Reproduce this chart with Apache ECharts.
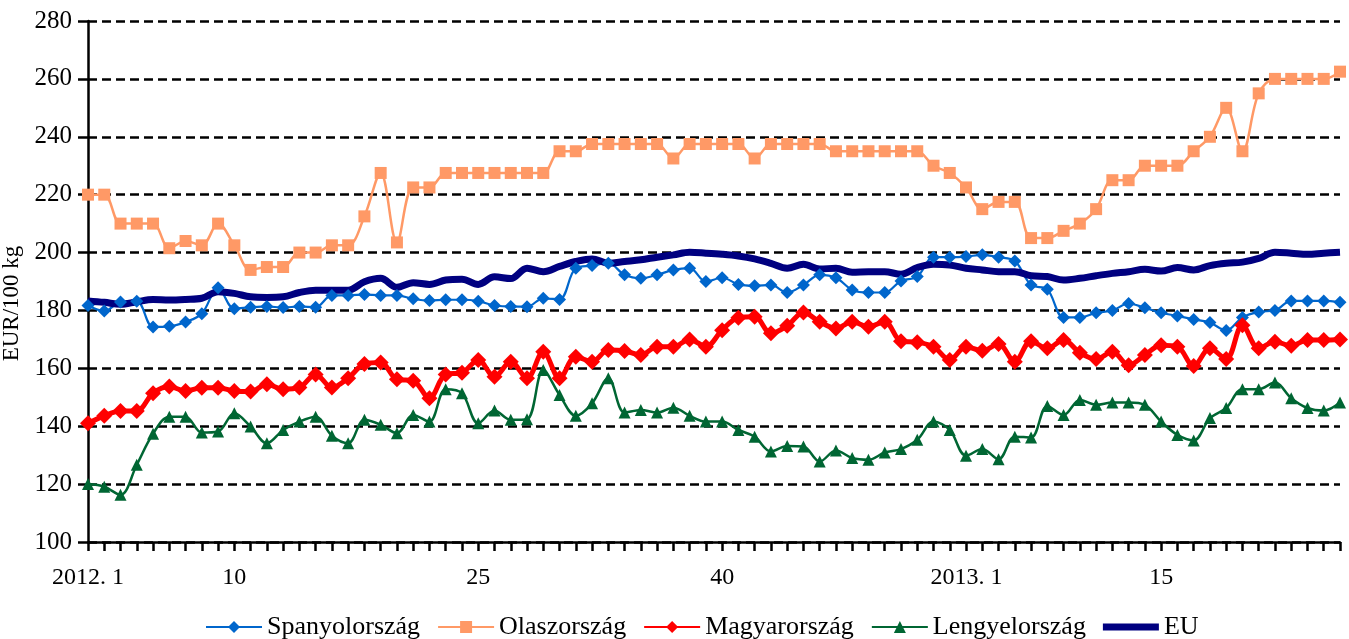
<!DOCTYPE html>
<html>
<head>
<meta charset="utf-8">
<script src="https://cdn.jsdelivr.net/npm/echarts@6/dist/echarts.min.js"></script>
<style>html,body{margin:0;padding:0;background:#fff;}#c{width:1349px;height:639px;}</style>
</head>
<body>
<div id="c"></div>
<script>
// Categories: weeks of 2012 (1..52) and 2013 (1..26)
const categories = [];
for (let w = 1; w <= 52; w++) categories.push(w === 1 ? '2012. 1' : String(w));
for (let w = 1; w <= 26; w++) categories.push(w === 1 ? '2013. 1' : String(w));
const shownLabels = [0, 9, 24, 39, 52, 66];

const spanyol = [181.7,179.8,182.9,183.2,174.3,174.5,176,178.9,187.8,180.6,181.1,181.4,181,181.4,181.1,185.2,185.2,185.5,185.2,185.2,184,183.4,183.7,183.7,183.2,181.7,181.4,
  181.3,184.2,183.8,194.6,195.5,196.3,192.3,191.1,192.3,194,194.6,190,191.3,189,188.5,188.8,186.2,188.8,192.3,191.3,187.1,186.2,186.2,190.2,191.7,
  198.4,198.4,198.6,199.2,198.4,197.1,188.8,187.3,177.6,177.6,179.2,180,182.4,180.9,179.2,178.1,176.9,175.8,173.1,177.6,179.5,180,183.3,183.3,183.3,182.8];
const olasz = [220,220,210,210,210,201.5,204,202.5,210,202.5,194,195,195,200,200,202.5,202.5,212.5,227.5,203.5,222.5,222.5,227.5,227.5,227.5,227.5,227.5,
  227.5,227.5,235,235,237.5,237.5,237.5,237.5,237.5,232.5,237.5,237.5,237.5,237.5,232.5,237.5,237.5,237.5,237.5,235,235,235,235,235,235,
  230,227.5,222.5,215,217.5,217.5,205,205,207.5,210,215,225,225,230,230,230,235,240,250,235,255,260,260,260,260,262.5];
const magyar = [141,143.6,145.3,145.3,151.4,153.7,152.2,153.3,153.3,152.2,152,154.5,152.8,153.4,157.9,153.4,156.6,161.5,162,156.2,155.7,149.7,157.9,158.5,162.9,157.1,162.3,
  156.6,165.7,156.6,164,162.3,166.3,166,164.6,167.5,167.5,170,167.5,173.2,177.5,177.8,172.1,174.7,179.3,176.1,173.8,176.1,174.4,176.1,169.4,169,
  167.5,162.9,167.5,166.1,168.4,162.3,169.4,166.9,169.8,165.4,163.2,165.7,161.1,164.6,168,167.5,160.8,166.9,163.2,174.9,166.9,169.2,167.8,169.8,169.8,170];
const lengyel = [120,119.1,116.3,126.7,137.4,143.3,143.3,137.8,138.2,144.5,139.9,134.1,138.7,141.6,143.3,136.7,134.1,142.2,140.5,137.6,143.9,141.6,152.8,151.4,141,145.4,142.2,
  142.4,159.4,150.8,143.6,147.9,156.6,144.7,145.6,144.7,146.4,143.6,141.6,141.6,138.7,136.4,131.3,133.2,133,127.8,131.6,129,128.4,130.9,132.1,135.3,
  141.6,138.7,129.8,132.1,128.6,136.4,136.1,147,143.9,149.1,147.4,148.2,148.2,147.4,141.6,137,135.1,142.8,146.3,152.8,152.8,155.1,149.7,146.3,145.4,148.2];
const eu = [183.3,182.8,182.1,183,183.8,183.6,183.8,184.2,186.5,185.9,184.7,184.5,184.7,186.2,187,187,187,189.9,191.1,188,189.6,189,190.5,190.8,189,191.6,191,
  194.6,193.4,195.2,196.9,197.8,196.3,196.9,197.5,198.4,199.2,200.1,199.8,199.4,198.8,197.8,196.3,194.6,196,194.3,194.6,193.2,193.4,193.4,192.5,194.8,
  196,195.7,194.6,194,193.4,193.4,192,191.7,190.5,191.1,192,192.8,193.4,194.2,193.6,194.8,194,195.5,196.3,196.7,198,200.1,199.8,199.4,199.8,200.1];

const FONT = '"Liberation Serif", "Times New Roman", serif';
const chart = echarts.init(document.getElementById('c'), null, {renderer: 'canvas'});

function mk(name, data, color, width, symbol, size) {
  return {
    name, type: 'line', data, smooth: 0.35,
    symbol: symbol || 'none', symbolSize: size || 0,
    showSymbol: !!symbol, showAllSymbol: true,
    lineStyle: {color, width}, itemStyle: {color},
    emphasis: {disabled: true}, animation: false
  };
}

chart.setOption({
  animation: false,
  backgroundColor: '#fff',
  grid: {left: 88, right: 9, top: 21, bottom: 97, containLabel: false, outerBoundsMode: 'none'},
  legend: {
    left: 200, top: 609, itemWidth: 56, itemHeight: 15, itemGap: 17,
    textStyle: {fontFamily: FONT, fontSize: 26, color: '#000'},
    data: ['Spanyolország', 'Olaszország', 'Magyarország', 'Lengyelország',
      {name: 'EU', icon: 'path://M0,0M0,4L56,4L56,11L0,11ZM56,15'}]
  },
  xAxis: {
    type: 'category', data: categories, boundaryGap: false,
    axisLine: {lineStyle: {color: '#000', width: 2.5}},
    axisTick: {show: true, interval: 0, length: 9, lineStyle: {color: '#000', width: 2.5}},
    axisLabel: {
      interval: (i) => shownLabels.indexOf(i) >= 0,
      fontFamily: FONT, fontSize: 24, color: '#000', margin: 24,
      formatter: (v, i) => i === 52 ? '{s|' + v + '}' : v,
      rich: {s: {fontFamily: FONT, fontSize: 24, color: '#000', padding: [0, 0, 0, 66]}}
    },
    splitLine: {show: false}
  },
  yAxis: {
    type: 'value', min: 100, max: 280, interval: 20,
    name: 'EUR/100 kg', nameLocation: 'middle', nameRotate: 90, nameGap: 62,
    nameTextStyle: {fontFamily: FONT, fontSize: 23, color: '#000', padding: [0, 44, 0, 0]},
    axisLine: {show: true, lineStyle: {color: '#000', width: 2.5}},
    axisTick: {show: true, length: 10, lineStyle: {color: '#000', width: 2.5}},
    axisLabel: {fontFamily: FONT, fontSize: 25, color: '#000', margin: 16},
    splitLine: {show: true, lineStyle: {color: '#000', width: 2.5, type: [9, 5]}}
  },
  series: [
    mk('Spanyolország', spanyol, '#0066CC', 2.2, 'diamond', 13),
    mk('Olaszország', olasz, '#FF9966', 2.5, 'rect', 12),
    mk('Magyarország', magyar, '#FF0000', 5, 'diamond', 16),
    mk('Lengyelország', lengyel, '#006633', 2.5, 'triangle', 12),
    mk('EU', eu, '#000080', 7)
  ]
});
</script>
</body>
</html>
